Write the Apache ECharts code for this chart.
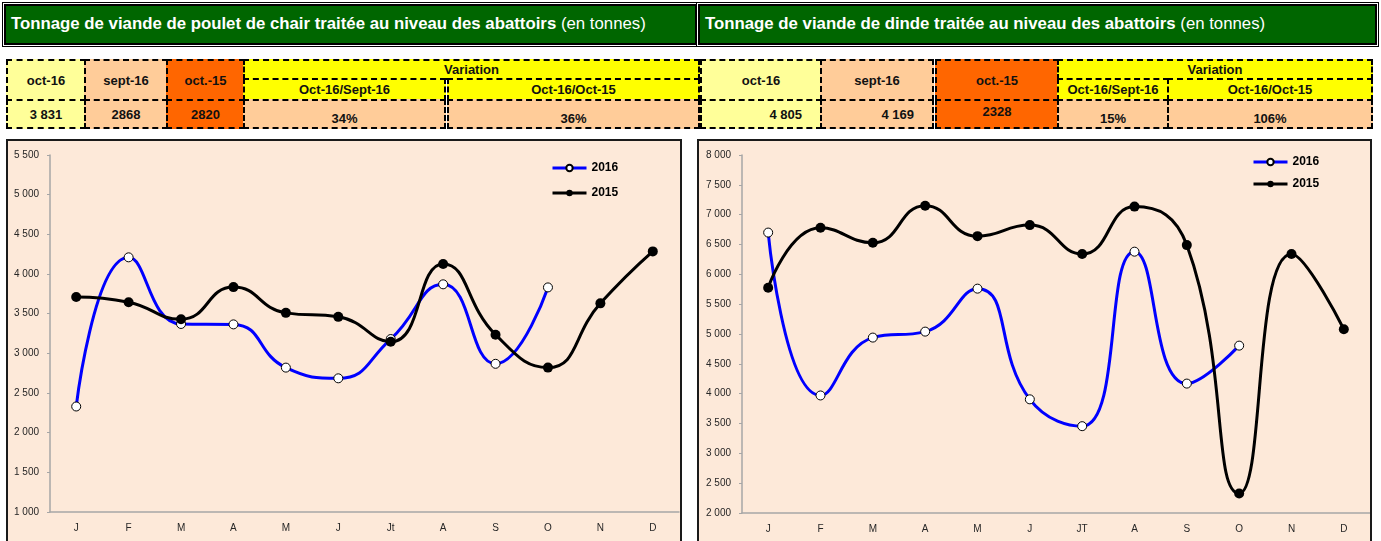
<!DOCTYPE html>
<html><head><meta charset="utf-8">
<script src="https://cdn.jsdelivr.net/npm/echarts@6/dist/echarts.min.js"></script>
<style>
html,body{margin:0;padding:0;width:1381px;height:541px;overflow:hidden;background:#fff;font-family:'Liberation Sans',Arial,sans-serif;}
.abs{position:absolute;box-sizing:border-box;}
.hdr-out{border:1px solid #000;padding:1px;background:#fff;}
.hdr-in{width:100%;height:100%;box-sizing:border-box;border:2px solid #000;background:#006600;color:#fff;font-size:16.8px;padding-left:5px;padding-bottom:2px;display:flex;align-items:center;white-space:nowrap;}
.cell{border:2px dashed #000;font-weight:bold;font-size:13px;color:#111;display:flex;align-items:center;justify-content:center;white-space:nowrap;}
.panel{border:2px solid #1a1a1a;background:#FDE9D9;}
</style></head>
<body>
<div class="abs hdr-out" style="left:2px;top:2px;width:697px;height:45px;"><div class="hdr-in"><b>Tonnage de viande de poulet de chair traitée au niveau des abattoirs</b>&nbsp;(en tonnes)</div></div>
<div class="abs hdr-out" style="left:696px;top:2px;width:683px;height:45px;"><div class="hdr-in"><b>Tonnage de viande de dinde traitée au niveau des abattoirs</b>&nbsp;(en tonnes)</div></div>
<div id="tables"></div>
<div class="abs panel" style="left:6px;top:139px;width:676px;height:420px;"><div id="c1" style="width:672px;height:416px;"></div></div>
<div class="abs panel" style="left:697px;top:139px;width:675px;height:420px;"><div id="c2" style="width:671px;height:416px;"></div></div>
<script>
// ---- data ----
const monthsPoulet = ['J','F','M','A','M','J','Jt','A','S','O','N','D'];
const monthsDinde  = ['J','F','M','A','M','J','JT','A','S','O','N','D'];
const poulet2016 = [2330, 4210, 3370, 3365, 2820, 2685, 3180, 3870, 2868, 3831];
const poulet2015 = [3710, 3645, 3430, 3835, 3510, 3460, 3145, 4125, 3235, 2820, 3630, 4285];
const dinde2016  = [6700, 3970, 4940, 5040, 5760, 3905, 3455, 6380, 4169, 4805];
const dinde2015  = [5775, 6780, 6530, 7150, 6640, 6825, 6340, 7135, 6490, 2328, 6340, 5080];
const seriesNames = ['2016', '2015'];
const tableHeaders = ['oct-16', 'sept-16', 'oct.-15', 'Variation', 'Oct-16/Sept-16', 'Oct-16/Oct-15'];
const pouletTableValues = ['3 831', '2868', '2820', '34%', '36%'];
const dindeTableValues  = ['4 805', '4 169', '2328', '15%', '106%'];

// ---- tables ----
const COL_LY = '#FFFF99', COL_PE = '#FFCC99', COL_OR = '#FF6600', COL_YE = '#FFFF00';
const tables = document.getElementById('tables');
function cell(x1, x2, y1, y2, bg, text, extra) {
  const d = document.createElement('div');
  d.className = 'abs cell';
  d.style.left = x1 + 'px'; d.style.top = y1 + 'px';
  d.style.width = (x2 - x1) + 'px'; d.style.height = (y2 - y1) + 'px';
  d.style.background = bg;
  if (extra) Object.assign(d.style, extra);
  d.textContent = text;
  tables.appendChild(d);
}
function buildTable(b, vals, opt) {
  const T = 59, M = 78, V = 99, B = 129;
  cell(b[0], b[1] + 2, T, V + 2, COL_LY, tableHeaders[0]);
  cell(b[1], b[2] + 2, T, V + 2, COL_PE, tableHeaders[1]);
  cell(b[3], b[4] + 2, T, V + 2, COL_OR, tableHeaders[2]);
  cell(b[4], b[7], T, M + 2, COL_YE, tableHeaders[3]);
  cell(b[4], b[5], M, V + 2, COL_YE, tableHeaders[4]);
  cell(b[6], b[7], M, V + 2, COL_YE, tableHeaders[5]);
  cell(b[0], b[1] + 2, V, B, COL_LY, vals[0], opt.v0);
  cell(b[1], b[2] + 2, V, B, COL_PE, vals[1], opt.v1);
  cell(b[3], b[4] + 2, V, B, COL_OR, vals[2], opt.v2);
  const pct = {alignItems: 'flex-end', paddingBottom: '1px'};
  cell(b[4], b[5], V, B, COL_PE, vals[3], pct);
  cell(b[6], b[7], V, B, COL_PE, vals[4], pct);
}
buildTable([6, 84, 166, 166, 243, 446, 447, 700], pouletTableValues, {});
buildTable([700, 820, 932, 935, 1057, 1169, 1167, 1373], dindeTableValues, {
  v0: {justifyContent: 'flex-end', paddingRight: '18px'},
  v1: {justifyContent: 'flex-end', paddingRight: '18px'},
  v2: {alignItems: 'flex-start', paddingTop: '3px'}
});

// ---- charts ----
const fmt = v => String(v).replace(/\B(?=(\d{3})+(?!\d))/g, ' ');
function makeOption(cats, s16, s15, ymin, ymax, grid, legend) {
  return {
    animation: false,
    textStyle: {fontFamily: "'Liberation Sans', Arial, sans-serif"},
    grid: grid,
    legend: Object.assign({
      orient: 'vertical', itemWidth: 34, itemHeight: 8, padding: 0,
      lineStyle: {width: 3},
      textStyle: {fontWeight: 'bold', fontSize: 12, color: '#000'},
      data: seriesNames
    }, legend),
    xAxis: {
      type: 'category', data: cats, boundaryGap: true,
      axisLine: {lineStyle: {color: '#A6A6A6', width: 1.5}},
      axisTick: {show: false},
      axisLabel: {color: '#262626', fontSize: 10, margin: 11, interval: 0}
    },
    yAxis: {
      type: 'value', min: ymin, max: ymax, interval: 500,
      axisLine: {show: true, lineStyle: {color: '#A6A6A6', width: 1.5}},
      axisTick: {show: true, length: 3, lineStyle: {color: '#A6A6A6'}},
      splitLine: {show: false},
      axisLabel: {color: '#262626', fontSize: 10, margin: 11, formatter: fmt}
    },
    series: [
      {name: seriesNames[0], type: 'line', data: s16, smooth: 0.5, symbol: 'circle', symbolSize: 9,
       lineStyle: {color: '#0000FF', width: 3},
       itemStyle: {color: '#FFFFFF', borderColor: '#000', borderWidth: 1}},
      {name: seriesNames[1], type: 'line', data: s15, smooth: 0.5, symbol: 'circle', symbolSize: 10,
       lineStyle: {color: '#000000', width: 3},
       itemStyle: {color: '#000000'}}
    ]
  };
}
echarts.init(document.getElementById('c1')).setOption(
  makeOption(monthsPoulet, poulet2016, poulet2015, 1000, 5500,
    {left: 42, top: 14, width: 629, height: 357},
    {left: 543, top: 21, itemGap: 13}));
echarts.init(document.getElementById('c2')).setOption(
  makeOption(monthsDinde, dinde2016, dinde2015, 2000, 8000,
    {left: 43, top: 14, width: 628, height: 358},
    {left: 553, top: 15, itemGap: 10}));
</script>
</body></html>
